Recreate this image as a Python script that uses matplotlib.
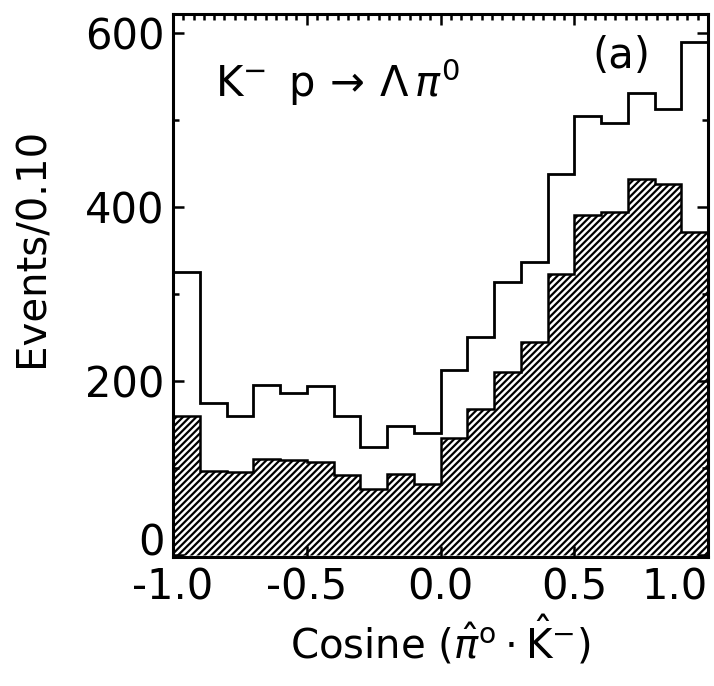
import numpy as np
import matplotlib
matplotlib.use("Agg")
import matplotlib.pyplot as plt
from matplotlib.ticker import MultipleLocator, AutoMinorLocator

# bin edges of cos(pi0 . K-), width 0.10
edges = np.linspace(-1.0, 1.0, 21)

# all events (open histogram)
open_counts = [325, 175, 160, 196, 186, 195, 160, 124, 148, 140,
               213, 251, 314, 337, 438, 504, 497, 531, 513, 589]
# selected events (hatched histogram)
hatched_counts = [160, 97, 96, 111, 109, 107, 92, 76, 93, 82,
                  135, 168, 211, 245, 323, 391, 394, 432, 426, 371]

xticks = [-1.0, -0.5, 0.0, 0.5, 1.0]
xticklabels = ['-1.0', '-0.5', '0.0', '0.5', '1.0']
yticks = [0, 200, 400, 600]

plt.rcParams['hatch.linewidth'] = 1.6
plt.rcParams['font.family'] = ['DejaVu Sans']
plt.rcParams['mathtext.fontset'] = 'dejavusans'

fig = plt.figure(figsize=(7.14, 6.86), dpi=100)
ax = fig.add_axes([0.2423, 0.188, 0.7493, 0.792])

ax.stairs(hatched_counts, edges, fill=True, hatch='/////',
          facecolor='white', edgecolor='black', linewidth=1.8)
ax.stairs(open_counts, edges, color='black', linewidth=2.0)

ax.set_xlim(-1.0, 1.0)
ax.set_ylim(-2, 622)

for s in ax.spines.values():
    s.set_linewidth(2.2)

ax.set_xticks(xticks)
ax.set_xticklabels(xticklabels)
labs = ax.get_xticklabels()
labs[-1].set_horizontalalignment('right')
ax.xaxis.set_minor_locator(AutoMinorLocator(13))
ax.set_yticks(yticks)
ax.yaxis.set_minor_locator(MultipleLocator(100))
ylabs = ax.get_yticklabels()
ylabs[0].set_verticalalignment('baseline')

ax.tick_params(which='both', direction='in', top=True, right=True,
               labelsize=30, width=1.8, colors='black')
ax.tick_params(which='major', length=8, pad=6)
ax.tick_params(which='minor', length=4, bottom=False)
ax.tick_params(axis='x', which='major', pad=7)

ax.set_ylabel('Events/0.10', fontsize=29)
ax.yaxis.set_label_coords(-0.225, 0.57)
ax.set_xlabel(r'Cosine $(\hat{\pi}^{\mathrm{o}}\cdot\hat{\mathrm{K}}^{-})$',
              fontsize=29, labelpad=4)

ax.text(0.078, 0.847,
        r'$\mathrm{K}^{-}\ \,\mathrm{p}\,\rightarrow\,\Lambda\,\pi^{0}$',
        transform=ax.transAxes, fontsize=30, ha='left', va='baseline')
ax.text(0.892, 0.90, '(a)', transform=ax.transAxes, fontsize=30,
        ha='right', va='baseline')

fig.savefig('out.png', dpi=100)
